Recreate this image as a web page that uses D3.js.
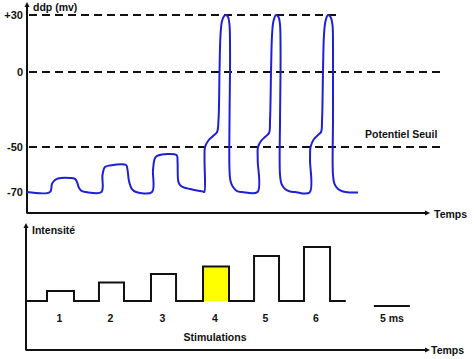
<!DOCTYPE html>
<html><head><meta charset="utf-8">
<script src="https://cdn.jsdelivr.net/npm/d3@7"></script>
<style>
html,body{margin:0;padding:0;background:#fff;}
svg{display:block;font-family:"Liberation Sans",Arial,sans-serif;font-weight:bold;}
</style></head>
<body>
<svg id="c" width="474" height="359"></svg>
<script>
// ---- data ----
const mvTicks = [30, 0, -50, -70];
const mvTickLabels = ["+30", "0", "-50", "-70"];
const dashedLevels = [30, 0, -50];
const dashedEnds = [43.5, 57.7, 57.8]; // ms where each dashed line ends
const thresholdLabel = "Potentiel Seuil";

// membrane potential trace: time (ms) and ddp (mV)
const traceT = [0, 3.2, 3.47, 3.89, 4.31, 5.98, 6.67, 6.95, 7.23, 7.64, 8.2,
  10.35, 10.49, 10.84, 11.53, 13.76, 13.97, 14.17, 14.59, 15.15,
  17.37, 17.51, 17.79, 18.2, 20.78, 20.92, 21.05, 21.4, 22.65, 24.46, 24.64,
  24.67, 24.74, 25.16, 25.85, 26.41, 26.61, 26.75, 26.89, 27.1, 27.45, 27.66, 27.94, 28.14, 28.21, 28.21, 28.14, 28.14, 28.28, 28.63, 29.18, 29.88, 32.03,
  32.06, 32.1, 32.52, 33.07, 33.63, 33.77, 33.91, 34.05, 34.25, 34.6, 34.95, 35.16, 35.23, 35.23, 35.16, 35.16, 35.37, 35.85, 36.55, 37.24, 39.26,
  39.33, 39.4, 39.88, 40.44, 40.86, 41.0, 41.13, 41.27, 41.48, 41.83, 42.18, 42.45, 42.52, 42.52, 42.52, 42.52, 42.73, 43.22, 43.92, 44.89, 46.0];
const traceV = [-70, -70, -66.4, -64.7, -64, -63.8, -64.2, -65.6, -68.2, -69.6, -70,
  -70, -62.4, -58.9, -58.2, -58, -60.2, -65.1, -68.7, -70,
  -70, -60.2, -54.9, -53.8, -53.6, -56.7, -65.6, -67.3, -68.7, -69.8, -70,
  -55.8, -50, -46, -42.7, -40, -32, 0, 19.5, 26.8, 29.7, 30, 28.9, 24.7, 14.2, 0, -32, -60.2, -65.1, -67.8, -69.6, -70, -70,
  -55.8, -50, -46, -43.3, -40.7, -32, 0, 19.5, 26.8, 30, 28.9, 24.7, 14.2, 0, -32, -62.4, -66.4, -68.7, -69.8, -70, -70.2,
  -55.8, -50, -44.7, -42, -40, -32, 0, 19.5, 26.8, 30, 28.9, 24.7, 14.2, 0, -32, -62.4, -66.4, -68.7, -69.8, -70.2, -70.2];

// stimulations
const stimLabels = ["1", "2", "3", "4", "5", "6"];
const stimStart = [2.78, 10.0, 17.23, 24.46, 31.55, 38.49];
const stimEnd = [6.53, 13.48, 20.71, 28.07, 35.02, 42.11];
const stimIntensity = [1.0, 1.85, 2.7, 3.45, 4.5, 5.4];
const stimHighlight = 3; // index of the threshold stimulation (yellow)
const stimSignalEnd = 44.3;
const scaleBarStart = 48.2, scaleBarLength = 5, scaleBarLabel = "5 ms";

// ---- scales ----
const svg = d3.select("#c");
const x = d3.scaleLinear().domain([0, 56]).range([27, 430]);
const y = d3.scaleLinear().domain([-70, -50, 0, 30]).range([192, 147, 72, 15]);
const yi = d3.scaleLinear().domain([0, 10]).range([301, 201]);

const ink = "#111";
const blue = "#1f1fd6";

function arrowRight(x0, y0) {
  svg.append("path").attr("d", `M${x0},${y0-2.5}L${x0+5},${y0}L${x0},${y0+2.5}Z`).attr("fill", ink);
}
function arrowUp(x0, y0) {
  svg.append("path").attr("d", `M${x0-2.5},${y0+5}L${x0},${y0}L${x0+2.5},${y0+5}Z`).attr("fill", ink);
}

// ---- top panel ----
dashedLevels.forEach((lv, i) => {
  svg.append("line")
    .attr("x1", x(0) + 2).attr("x2", x(dashedEnds[i]))
    .attr("y1", y(lv)).attr("y2", y(lv))
    .attr("stroke", ink).attr("stroke-width", 2)
    .attr("stroke-dasharray", "8,5");
});

const yAxis = d3.axisLeft(y).tickValues(mvTicks)
  .tickFormat((d, i) => mvTickLabels[i]).tickSize(0).tickPadding(4);
const gY = svg.append("g").attr("transform", `translate(${x(0)},0)`).call(yAxis);
gY.select(".domain").remove();
gY.selectAll("text").attr("font-size", 11).attr("font-weight", "bold")
  .attr("font-family", "Liberation Sans, Arial, sans-serif").attr("fill", ink);

svg.append("line").attr("x1", x(0)).attr("x2", x(0)).attr("y1", 6).attr("y2", 213.5)
  .attr("stroke", ink).attr("stroke-width", 2);
arrowUp(x(0), 2);
svg.append("line").attr("x1", x(0)).attr("x2", 427).attr("y1", 213).attr("y2", 213)
  .attr("stroke", ink).attr("stroke-width", 2);
arrowRight(425, 213);

svg.append("text").attr("x", 33).attr("y", 11).attr("font-size", 10.5).attr("fill", ink).text("ddp  (mv)");
svg.append("text").attr("x", 434).attr("y", 218).attr("font-size", 10.5).attr("fill", ink).text("Temps");
svg.append("text").attr("x", 365).attr("y", 138).attr("font-size", 10.5).attr("fill", ink).text(thresholdLabel);

const trace = traceT.map((t, i) => [t, traceV[i]]);
svg.append("path").datum(trace)
  .attr("d", d3.line().x(d => x(d[0])).y(d => y(d[1])).curve(d3.curveCatmullRom.alpha(0.5)))
  .attr("fill", "none").attr("stroke", blue).attr("stroke-width", 2).attr("stroke-linejoin", "round");

// ---- bottom panel ----
svg.append("line").attr("x1", 26).attr("x2", 26).attr("y1", 227).attr("y2", 350.5)
  .attr("stroke", ink).attr("stroke-width", 2);
arrowUp(26, 223);
svg.append("line").attr("x1", 26).attr("x2", 427).attr("y1", 350).attr("y2", 350)
  .attr("stroke", ink).attr("stroke-width", 2);
arrowRight(425, 350);
svg.append("text").attr("x", 32).attr("y", 234).attr("font-size", 10.5).attr("fill", ink).text("Intensité");
svg.append("text").attr("x", 431).attr("y", 354).attr("font-size", 10.5).attr("fill", ink).text("Temps");

svg.append("rect")
  .attr("x", x(stimStart[stimHighlight])).attr("y", yi(stimIntensity[stimHighlight]))
  .attr("width", x(stimEnd[stimHighlight]) - x(stimStart[stimHighlight]))
  .attr("height", yi(0) - yi(stimIntensity[stimHighlight]))
  .attr("fill", "#ffff00");

const steps = [[0, 0]];
stimStart.forEach((s, i) => {
  steps.push([s, 0], [s, stimIntensity[i]], [stimEnd[i], stimIntensity[i]], [stimEnd[i], 0]);
});
steps.push([stimSignalEnd, 0]);
svg.append("path").datum(steps)
  .attr("d", d3.line().x(d => x(d[0])).y(d => yi(d[1])))
  .attr("fill", "none").attr("stroke", ink).attr("stroke-width", 2);

svg.selectAll(".sl").data(stimLabels).enter().append("text")
  .attr("x", (d, i) => (x(stimStart[i]) + x(stimEnd[i])) / 2 - 1)
  .attr("y", 322).attr("text-anchor", "middle").attr("font-size", 10.5).attr("fill", ink)
  .text(d => d);

svg.append("text").attr("x", 215).attr("y", 341).attr("text-anchor", "middle")
  .attr("font-size", 10.5).attr("fill", ink).text("Stimulations");

svg.append("line").attr("x1", x(scaleBarStart)).attr("x2", x(scaleBarStart + scaleBarLength))
  .attr("y1", 306).attr("y2", 306).attr("stroke", ink).attr("stroke-width", 2);
svg.append("text").attr("x", x(scaleBarStart + scaleBarLength / 2)).attr("y", 322)
  .attr("text-anchor", "middle").attr("font-size", 10.5).attr("fill", ink).text(scaleBarLabel);
</script>
</body></html>
